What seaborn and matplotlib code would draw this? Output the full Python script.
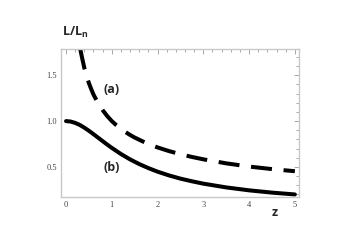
import pandas as pd
import matplotlib.pyplot as plt
import seaborn as sns
from matplotlib.ticker import MultipleLocator

# Values
z_a = [0.31, 0.33, 0.36, 0.40, 0.45, 0.50, 0.55, 0.60, 0.70, 0.80, 0.90, 1.00,
       1.10, 1.20, 1.30, 1.40, 1.50, 1.75, 2.00, 2.25, 2.50, 2.75, 3.00, 3.50,
       4.00, 4.50, 5.00]
l_a = [1.79, 1.74, 1.67, 1.58, 1.49, 1.415, 1.35, 1.29, 1.195, 1.12, 1.055, 1.00,
       0.955, 0.915, 0.88, 0.848, 0.82, 0.76, 0.712, 0.672, 0.638, 0.608, 0.582,
       0.538, 0.503, 0.475, 0.452]

z_b = [0.0, 0.1, 0.2, 0.3, 0.4, 0.5, 0.6, 0.7, 0.8, 0.9, 1.0, 1.2, 1.4, 1.6,
       1.8, 2.0, 2.25, 2.5, 2.75, 3.0, 3.5, 4.0, 4.5, 5.0]
l_b = [1.0, 0.995, 0.98, 0.958, 0.928, 0.894, 0.857, 0.819, 0.781, 0.743, 0.707,
       0.640, 0.581, 0.530, 0.486, 0.447, 0.406, 0.371, 0.342, 0.316, 0.275,
       0.243, 0.218, 0.198]

df_a = pd.DataFrame({"z": z_a, "L": l_a})
df_b = pd.DataFrame({"z": z_b, "L": l_b})

sns.set_style("white")

fig = plt.figure(figsize=(3.51, 2.48), dpi=100)
ax = fig.add_axes([0.1738, 0.2056, 0.678, 0.5968])

# dashed curve (a)
sns.lineplot(data=df_a, x="z", y="L", ax=ax, color="black", linewidth=2.9,
             sort=False)
ax.lines[-1].set_dashes([1.8 * 2.9, 1.0 * 2.9])
ax.lines[-1].set_dash_capstyle("butt")

# solid curve (b)
sns.lineplot(data=df_b, x="z", y="L", ax=ax, color="black", linewidth=2.9,
             sort=False)

ax.set_xlim(-0.11, 5.09)
ax.set_ylim(0.17, 1.788)
ax.set_xlabel("")
ax.set_ylabel("")

# Mathematica-style frame
for s in ax.spines.values():
    s.set_color("#c8c8c8")
    s.set_linewidth(1.0)

ax.xaxis.set_major_locator(MultipleLocator(1))
ax.xaxis.set_minor_locator(MultipleLocator(0.2))
ax.yaxis.set_major_locator(MultipleLocator(0.5))
ax.yaxis.set_minor_locator(MultipleLocator(0.1))
ax.tick_params(which="both", direction="in", top=True, right=True,
               color="#9a9a9a", width=0.6)
ax.tick_params(which="major", length=3.5, labelsize=6, labelcolor="#444444", pad=3)
ax.tick_params(which="minor", length=2)
ax.set_xticks([0, 1, 2, 3, 4, 5])
ax.set_xticklabels(["0", "1", "2", "3", "4", "5"], family="Liberation Serif")
ax.set_yticks([0.5, 1.0, 1.5])
ax.set_yticklabels(["0.5", "1.0", "1.5"], family="Liberation Serif")

# labels
fig.text(0.177, 0.87, r"L/L$_\mathregular{n}$", fontsize=9, fontweight="bold",
         family="Open Sans", ha="left", va="center")
ax.text(1.0, 1.35, "(a)", fontsize=9, fontweight="bold",
        family="Open Sans", ha="center", va="center")
ax.text(0.99, 0.49, "(b)", fontsize=9, fontweight="bold",
        family="Open Sans", ha="center", va="center")
fig.text(0.782, 0.145, "z", fontsize=9, fontweight="bold",
         family="Open Sans", ha="center", va="center")

fig.savefig("out.png", dpi=100, facecolor="white")
